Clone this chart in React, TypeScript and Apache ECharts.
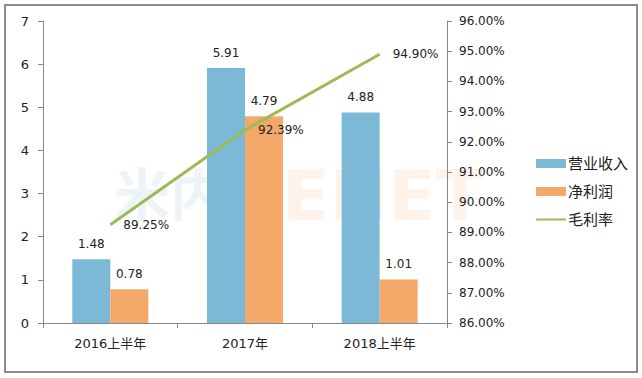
import React, { useEffect, useRef } from "react";
import * as echarts from "echarts";

const categories = ["2016上半年", "2017年", "2018上半年"];
const revenue = [1.48, 5.91, 4.88];
const netProfit = [0.78, 4.79, 1.01];
const grossMargin = [89.25, 92.39, 94.9];
const leftTicks = { min: 0, max: 7, interval: 1 };
const rightTicks = { min: 86, max: 96, interval: 1 };

const FONT = "'DejaVu Sans', 'Noto Sans CJK SC', sans-serif";
const BLUE = "#7cb9d6";
const ORANGE = "#f4a96b";
const GREEN = "#9bbb59";

export default function App() {
  const ref = useRef<HTMLDivElement>(null);
  useEffect(() => {
    if (!ref.current) return;
    const chart = echarts.init(ref.current, null, { renderer: "svg" });
    chart.setOption({
      animation: false,
      backgroundColor: "#ffffff",
      textStyle: { fontFamily: FONT },
      grid: { left: 43, right: 195, top: 21, bottom: 55 },
      legend: {
        orient: "vertical",
        left: 530,
        top: 151,
        itemWidth: 30,
        itemHeight: 9,
        itemGap: 13,
        itemStyle: { borderWidth: 0 },
        textStyle: { fontSize: 15, color: "#222", fontFamily: FONT, padding: [0, 0, 0, -3] },
        data: [
          { name: "营业收入", icon: "rect" },
          { name: "净利润", icon: "rect" },
          { name: "毛利率", itemStyle: { opacity: 0 } },
        ],
      },
      graphic: [
        {
          type: "rect",
          shape: { x: 5, y: 5, width: 632, height: 367 },
          style: { fill: "none", stroke: "#8c8c8c", lineWidth: 2 },
          z: 100,
        },
        {
          type: "text",
          x: 114,
          y: 162,
          z: -1,
          style: { text: "米内", fontSize: 56, fontWeight: "bold", fill: "rgba(120,160,190,0.13)", fontFamily: "'Noto Sans CJK SC', sans-serif" },
        },
        {
          type: "text",
          x: 212,
          y: 161,
          z: -1,
          style: { text: "MENET", fontSize: 70, fontWeight: "bold", fill: "rgba(245,160,90,0.12)", fontFamily: "'DejaVu Sans', sans-serif" },
        },
      ],
      xAxis: {
        type: "category",
        data: categories,
        axisLine: { lineStyle: { color: "#888" } },
        axisTick: { show: true, length: 5, lineStyle: { color: "#888" } },
        axisLabel: { fontSize: 13, color: "#222", margin: 14, fontFamily: FONT },
      },
      yAxis: [
        {
          type: "value",
          ...leftTicks,
          axisLine: { show: true, lineStyle: { color: "#888" } },
          axisTick: { show: true, length: 5, lineStyle: { color: "#888" } },
          splitLine: { show: false },
          axisLabel: { fontSize: 13, color: "#222", margin: 14, fontFamily: FONT },
        },
        {
          type: "value",
          ...rightTicks,
          position: "right",
          axisLine: { show: true, lineStyle: { color: "#888" } },
          axisTick: { show: true, length: 5, lineStyle: { color: "#888" } },
          splitLine: { show: false },
          axisLabel: {
            fontSize: 12,
            color: "#222",
            margin: 12,
            fontFamily: FONT,
            formatter: (v: number) => v.toFixed(2) + "%",
          },
        },
      ],
      series: [
        {
          name: "营业收入",
          type: "bar",
          data: revenue,
          barWidth: 38,
          barGap: "0%",
          itemStyle: { color: BLUE },
          label: { show: true, position: "top", distance: 9, fontSize: 12, color: "#222", fontFamily: FONT },
        },
        {
          name: "净利润",
          type: "bar",
          data: netProfit,
          barWidth: 38,
          barGap: "0%",
          itemStyle: { color: ORANGE },
          label: { show: true, position: "top", distance: 9, fontSize: 12, color: "#222", fontFamily: FONT },
        },
        {
          name: "毛利率",
          type: "line",
          yAxisIndex: 1,
          data: grossMargin,
          symbol: "circle",
          symbolSize: 0,
          showSymbol: true,
          lineStyle: { color: GREEN, width: 3 },
          itemStyle: { color: GREEN },
          z: 5,
          label: {
            show: true,
            position: "right",
            distance: 13,
            fontSize: 12,
            color: "#222",
            fontFamily: FONT,
            formatter: (p: any) => p.value.toFixed(2) + "%",
          },
        },
      ],
    });
    return () => chart.dispose();
  }, []);
  return (
    <div
      ref={ref}
      style={{ position: "absolute", left: 0, top: 0, width: 642, height: 378 }}
    />
  );
}
